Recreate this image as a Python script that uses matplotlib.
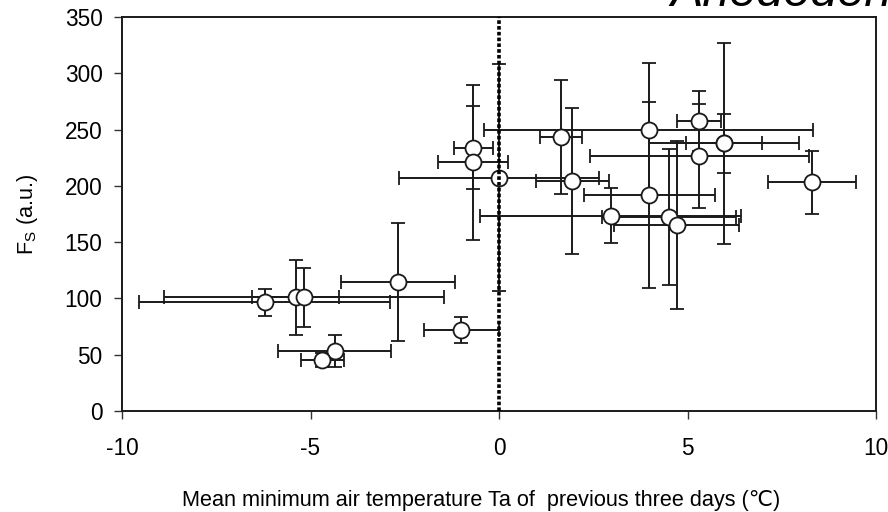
import matplotlib
matplotlib.use("Agg")
import matplotlib.pyplot as plt

plt.rcParams['font.family'] = ['Liberation Sans', 'DejaVu Sans']
plt.rcParams['mathtext.default'] = 'regular'
plt.rcParams['axes.unicode_minus'] = False

# Mean minimum air temperature of previous three days (x) and Fs (y), with errors
temp = [-6.21, -5.39, -5.17, -2.68, -1.00, -4.36, -4.69, -0.68, -0.68, 0.00, 1.94,
        1.64, 3.97, 3.99, 5.31, 5.31, 5.97, 5.97, 8.31, 2.96, 4.51, 4.71]
fs = [96.8, 100.9, 100.9, 114.8, 71.9, 53.3, 45.3, 233.8, 220.8, 207.2, 204.5,
      243.6, 249.3, 191.8, 257.5, 226.7, 237.7, 237.7, 203.0, 173.5, 172.6, 165.2]
temp_err = [3.33, 1.15, 3.72, 1.52, 1.00, 1.50, 0.57, 0.52, 0.93, 2.66, 0.97,
            0.55, 4.37, 1.73, 0.58, 2.90, 1.00, 2.00, 1.17, 3.46, 1.77, 1.66]
fs_err = [12.0, 33.0, 26.0, 52.5, 11.5, 14.0, 6.0, 37.0, 68.5, 101.0, 65.0,
          50.5, 60.0, 82.6, 26.7, 46.0, 26.0, 89.5, 28.0, 24.7, 60.4, 75.0]

fig = plt.figure(figsize=(8.88, 5.12), dpi=100)
ax = fig.add_axes([0.1374, 0.1973, 0.8491, 0.7695])

ax.errorbar(temp, fs, xerr=temp_err, yerr=fs_err, fmt='o', color='#1a1a1a',
            ecolor='#1a1a1a', elinewidth=1.4, capsize=5, capthick=1.4,
            markersize=11.5, markerfacecolor='white', markeredgecolor='#1a1a1a',
            markeredgewidth=1.3, zorder=3)

# threshold line at 0 degC
ax.plot([0, 0], [0, 350], color='black', linestyle=(0, (1, 0.6)), linewidth=2.6,
        zorder=4, clip_on=False)

ax.set_xlim(-10, 10)
ax.set_ylim(0, 350)
ax.set_xticks([-10, -5, 0, 5, 10])
ax.set_yticks(range(0, 351, 50))
ax.tick_params(axis='both', direction='out', length=6, width=1.0, labelsize=16.3,
               color='#333333')
ax.tick_params(axis='x', pad=13)
ax.tick_params(axis='y', pad=8)
for s in ax.spines.values():
    s.set_linewidth(1.4)
    s.set_color('#1a1a1a')

ax.set_xlabel('Mean minimum air temperature Ta of  previous three days (\u2103)',
              fontsize=15.6)
ax.xaxis.set_label_coords(0.476, -0.2)
ax.set_ylabel('F$_{S}$ (a.u.)', fontsize=15.6)
ax.yaxis.set_label_coords(-0.109, 0.5)

fig.text(0.755, 0.989, 'Anedoden', fontsize=35, style='italic', ha='left',
         va='baseline')

fig.savefig('out.png', dpi=100)
